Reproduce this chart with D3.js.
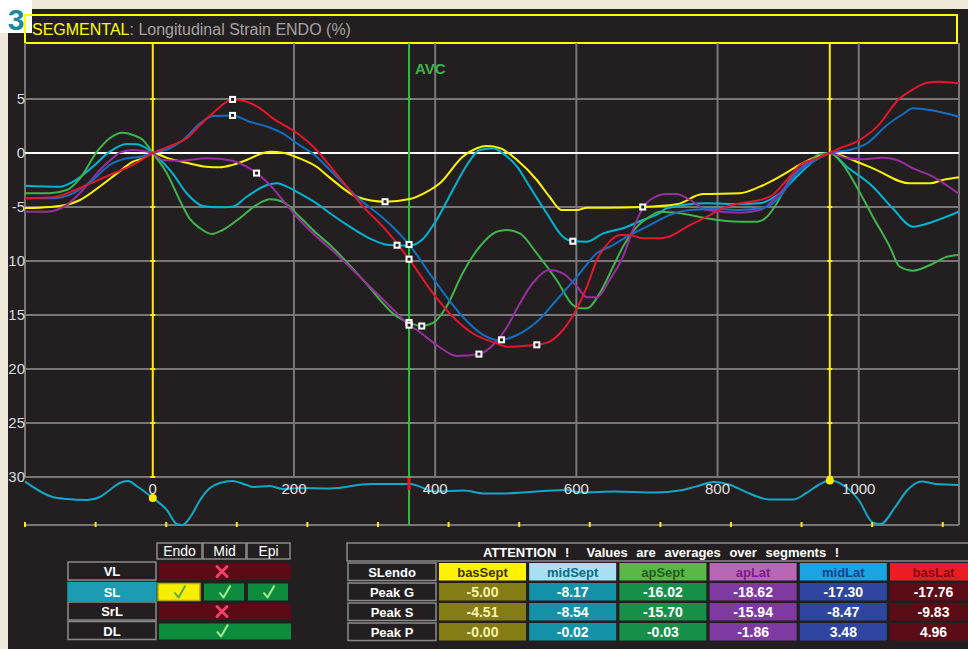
<!DOCTYPE html>
<html>
<head>
<meta charset="utf-8">
<script src="https://cdn.jsdelivr.net/npm/d3@7"></script>
<style>
body{margin:0;background:#efe9da;}
svg{display:block;font-family:"Liberation Sans",Arial,sans-serif;}
</style>
</head>
<body>
<svg id="chart" width="968" height="649"></svg>
<script>
//segment names and colours (curve, table header fill, header text, value cell fill, value text)
var segNames = ["basSept", "midSept", "apSept", "apLat", "midLat", "basLat"];
var segColors = ["#fff200", "#00b5d4", "#3db54a", "#982e9e", "#1070c4", "#e3172c"];
var headFill = ["#fff200", "#a9dff3", "#5bb848", "#b866b6", "#1ba3e2", "#ed1c24"];
var headText = ["#3b3300", "#0f6a80", "#1f5e23", "#7b1d88", "#173f8f", "#7e0b12"];
var cellFill = ["#847d16", "#1392a7", "#169049", "#7f3aa2", "#3045a0", "#5c0c16"];
var cellText = ["#f7f2b0", "#ffffff", "#ffffff", "#ffffff", "#ffffff", "#ffffff"];

//strain curves, [time ms, strain %]
var basSept = [[-181,-5.1],[-146,-5.0],[-122,-4.8],[-103,-4.35],[-75,-3.1],[-47,-1.7],[-28,-0.8],[-14,-0.5],[0,0],[20,-0.45],[48,-0.9],[76,-1.27],[95,-1.32],[113,-1.1],[133,-0.65],[152,-0.1],[166,0.12],[184,0.03],[208,-0.5],[232,-1.27],[251,-2.3],[289,-4.05],[329,-4.51],[364,-4.26],[382,-3.8],[407,-2.78],[439,-0.34],[459,0.44],[473,0.65],[492,0.44],[516,-0.65],[544,-2.5],[562,-4.05],[579,-5.28],[601,-5.28],[615,-5.06],[643,-5.06],[694,-5.0],[742,-4.75],[779,-3.8],[831,-3.73],[860,-3.12],[888,-2.19],[916,-1.11],[935,-0.49],[959,0],[997,-0.81],[1020,-1.42],[1072,-2.81],[1101,-2.81],[1119,-2.5],[1142,-2.25]];
var midSept = [[-181,-3.03],[-132,-3.12],[-113,-2.66],[-85,-1.27],[-61,0.12],[-37,0.83],[-23,0.81],[-9,0.44],[0,0],[28,-1.88],[48,-3.73],[71,-4.91],[91,-5.03],[113,-4.97],[133,-4.05],[162,-2.96],[176,-2.81],[190,-3.12],[208,-3.73],[232,-4.66],[251,-5.58],[279,-6.82],[307,-7.9],[332,-8.5],[346,-8.54],[363,-8.58],[381,-8.06],[402,-6.2],[425,-3.43],[445,-1.11],[463,0.28],[482,0.44],[496,-0.03],[516,-1.27],[534,-3.12],[558,-5.58],[581,-7.75],[595,-8.17],[615,-8.21],[638,-7.44],[666,-6.97],[694,-6.2],[718,-5.58],[728,-5.12],[785,-4.66],[832,-4.72],[860,-4.66],[888,-3.73],[917,-1.88],[941,-0.49],[959,0],[983,-1.27],[1020,-3.12],[1048,-5.12],[1077,-6.82],[1105,-6.36],[1142,-5.44]];
var apSept = [[-181,-3.73],[-146,-3.73],[-122,-3.43],[-103,-2.34],[-79,0.12],[-61,1.36],[-43,1.88],[-28,1.67],[-14,1.2],[0,0],[20,-1.88],[38,-4.35],[52,-6.05],[67,-6.97],[84,-7.5],[99,-7.13],[123,-6.05],[147,-4.81],[166,-4.29],[184,-4.51],[208,-5.9],[232,-7.44],[251,-8.52],[298,-11.76],[346,-15.16],[363,-15.7],[381,-16.02],[397,-15.74],[416,-14.23],[439,-11.11],[463,-8.68],[487,-7.29],[502,-7.13],[520,-7.44],[544,-9.29],[572,-11.76],[595,-14.07],[605,-14.38],[615,-14.38],[633,-12.99],[652,-10.53],[666,-8.68],[686,-6.82],[704,-5.9],[718,-5.44],[747,-5.58],[785,-6.05],[832,-6.36],[856,-6.36],[870,-5.9],[884,-4.66],[902,-2.5],[927,-0.95],[945,-0.09],[959,0],[978,-1.11],[997,-3.12],[1020,-5.9],[1044,-8.68],[1058,-10.53],[1077,-10.9],[1101,-10.37],[1125,-9.6],[1142,-9.44]];
var apLat = [[-181,-5.44],[-150,-5.44],[-122,-4.81],[-99,-3.43],[-75,-1.57],[-57,-0.49],[-47,0.03],[-28,0.28],[-14,0.19],[0,0],[14,-0.65],[38,-0.71],[76,-0.49],[113,-0.71],[133,-1.27],[147,-1.86],[166,-2.96],[184,-4.35],[208,-6.2],[232,-7.75],[251,-8.82],[298,-11.76],[346,-14.85],[363,-15.94],[374,-16.39],[402,-17.78],[431,-18.8],[462,-18.62],[482,-17.78],[502,-16.08],[520,-13.92],[538,-12.06],[562,-10.83],[581,-11.14],[601,-12.38],[615,-13.36],[629,-13.36],[647,-11.76],[666,-9.6],[680,-7.13],[694,-5.12],[708,-4.19],[728,-3.8],[742,-3.8],[761,-4.35],[785,-5.28],[832,-5.53],[860,-5.28],[888,-3.73],[917,-1.42],[941,-0.49],[959,0],[983,-0.49],[1006,-0.58],[1034,-0.44],[1054,-0.65],[1077,-1.42],[1105,-2.19],[1142,-3.8]];
var midLat = [[-181,-4.19],[-142,-4.19],[-113,-3.73],[-85,-2.5],[-61,-1.11],[-37,-0.49],[-18,-0.34],[0,0],[24,0.44],[43,1.2],[67,2.75],[85,3.43],[113,3.48],[137,2.9],[162,2.44],[184,1.82],[204,0.9],[232,-0.34],[251,-1.57],[289,-4.05],[332,-6.36],[363,-8.47],[392,-11.14],[416,-13.31],[439,-15.16],[468,-16.85],[487,-17.31],[494,-17.3],[516,-16.85],[544,-15.62],[572,-13.61],[601,-11.45],[629,-9.29],[652,-8.52],[676,-7.59],[700,-6.82],[718,-6.2],[732,-5.74],[761,-5.28],[799,-5.19],[832,-5.28],[870,-4.97],[888,-4.05],[912,-1.88],[935,-0.81],[959,0],[987,0.28],[1012,0.9],[1040,2.59],[1063,3.61],[1077,4.14],[1101,3.98],[1142,3.36]];
var basLat = [[-181,-4.19],[-142,-4.1],[-99,-3.12],[-61,-2.04],[-28,-1.11],[0,0],[28,0.74],[48,1.36],[67,2.59],[85,3.68],[113,4.96],[133,4.75],[152,4.14],[170,3.21],[190,2.44],[208,1.67],[232,0.28],[251,-1.2],[275,-3.12],[298,-4.97],[326,-6.82],[363,-9.83],[397,-12.99],[425,-15.16],[453,-16.69],[487,-17.62],[502,-17.94],[524,-17.87],[544,-17.76],[562,-17.47],[581,-16.39],[601,-14.38],[615,-12.38],[629,-9.91],[647,-8.21],[662,-7.59],[676,-7.59],[694,-7.9],[718,-7.9],[728,-7.81],[761,-6.67],[785,-5.9],[813,-4.97],[832,-4.66],[860,-4.35],[878,-3.89],[898,-2.5],[917,-1.11],[941,-0.49],[959,0],[973,0.44],[997,1.05],[1026,2.44],[1058,5.06],[1077,5.9],[1097,6.51],[1115,6.6],[1142,6.45]];
var curves = [basSept, midSept, apSept, apLat, midLat, basLat];

//peak values (table) and the times where they are marked
var peakG = [-5.00, -8.17, -16.02, -18.62, -17.30, -17.76];
var peakS = [-4.51, -8.54, -15.70, -15.94, -8.47, -9.83];
var peakP = [-0.001, -0.02, -0.03, -1.86, 3.48, 4.96];
var timeG = [694, 595, 381, 462, 494, 544];
var timeS = [329, 346, 363, 363, 363, 363];
var timeP = [null, null, null, 147, 113, 113];

//ecg trace, [time ms, amplitude]
var ecg = [[-181,0.32],[-142,-0.45],[-122,-0.55],[-93,-0.6],[-75,-0.45],[-61,-0.1],[-47,0.25],[-35,0.35],[-23,0.1],[0,-0.5],[20,-1.1],[34,-1.8],[42,-1.85],[55,-1.35],[67,-0.6],[81,0],[95,0.25],[113,0.35],[133,0.15],[142,0.05],[166,0.1],[184,-0.05],[208,0],[251,-0.02],[308,0.2],[364,0.2],[401,-0.18],[440,-0.13],[470,-0.28],[499,-0.27],[585,-0.1],[608,-0.22],[654,-0.18],[712,-0.23],[746,-0.13],[769,0.07],[795,0.3],[818,0.15],[839,-0.18],[873,-0.57],[908,-0.57],[925,-0.27],[943,0.15],[959,0.37],[980,0.1],[1000,-0.6],[1020,-1.73],[1031,-1.8],[1052,-0.93],[1069,-0.1],[1089,0.32],[1109,0.2],[1141,0.15]];

//axes
var ticksX = [0, 200, 400, 600, 800, 1000];
var gridX = [200, 400, 600, 800, 1000];
var ticksY = [5, 0, -5, -10, -15, -20, -25, -30];
var tickLabelsY = ["5", "0", "-5", "10", "15", "20", "25", "30"];
var cycleStart = 0, cycleEnd = 959, avcTime = 363;

//acquisition table
var modes = ["VL", "SL", "SrL", "DL"];
var layers = ["Endo", "Mid", "Epi"];
var modeStatus = [[0, 0, 0], [2, 1, 1], [0, 0, 0], [1, 1, 1]]; //0 off, 1 available, 2 selected
var peakRows = ["Peak G", "Peak S", "Peak P"];

var svg = d3.select("#chart"),
    width = +svg.attr("width"),
    height = +svg.attr("height");

var x = d3.scaleLinear().domain([-181, 1142]).range([25, 959]);
var y = d3.scaleLinear().domain([-30, 5]).range([477, 99]);
var ecgY = d3.scaleLinear().domain([-1.85, 0.4]).range([525, 480]);
var plotTop = 43, plotBottom = y(-30), stripBottom = 525;

//dark panel and badge
svg.append("rect").attr("x", 8).attr("y", 9).attr("width", width - 8).attr("height", height - 9).attr("fill", "#231f20");
svg.append("rect").attr("x", 0).attr("y", 0).attr("width", 32).attr("height", 33).attr("fill", "#ffffff");
svg.append("text").attr("x", 16).attr("y", 30).attr("text-anchor", "middle")
    .attr("font-size", 30).attr("font-weight", "bold").attr("fill", "#1a8aa0").text("3");

//header
svg.append("rect").attr("x", 25).attr("y", 15).attr("width", 932).attr("height", 28)
    .attr("fill", "none").attr("stroke", "#ffff00").attr("stroke-width", 2);
var head = svg.append("text").attr("x", 32).attr("y", 35).attr("font-size", 16);
head.append("tspan").attr("fill", "#ffff00").text("SEGMENTAL");
head.append("tspan").attr("fill", "#a3a3a3").text(":  Longitudinal Strain ENDO (%)");

//grid
var grid = svg.append("g");
grid.selectAll(".gy").data(ticksY.filter(function (d) { return d !== 0; })).enter().append("line")
    .attr("x1", x.range()[0]).attr("x2", x.range()[1])
    .attr("y1", function (d) { return y(d); }).attr("y2", function (d) { return y(d); })
    .attr("stroke", "#777777").attr("stroke-width", 2);
grid.selectAll(".gx").data(gridX).enter().append("line")
    .attr("x1", function (d) { return x(d); }).attr("x2", function (d) { return x(d); })
    .attr("y1", plotTop).attr("y2", plotBottom)
    .attr("stroke", "#777777").attr("stroke-width", 2);
grid.append("line").attr("x1", x.range()[0]).attr("x2", x.range()[0]).attr("y1", plotTop).attr("y2", plotBottom)
    .attr("stroke", "#777777").attr("stroke-width", 2);
grid.append("line").attr("x1", x.range()[1]).attr("x2", x.range()[1]).attr("y1", plotTop).attr("y2", stripBottom)
    .attr("stroke", "#777777").attr("stroke-width", 2);
grid.append("line").attr("x1", x.range()[0]).attr("x2", x.range()[1]).attr("y1", stripBottom).attr("y2", stripBottom)
    .attr("stroke", "#777777").attr("stroke-width", 2);
grid.append("line").attr("x1", x.range()[0]).attr("x2", x.range()[1]).attr("y1", y(0)).attr("y2", y(0))
    .attr("stroke", "#ffffff").attr("stroke-width", 2);

//y labels
svg.selectAll(".ylab").data(ticksY).enter().append("text")
    .attr("x", 25).attr("y", function (d) { return y(d) + 5; })
    .attr("text-anchor", "end").attr("font-size", 15).attr("fill", "#d9d9d9")
    .text(function (d, i) { return tickLabelsY[i]; });

//event lines
function eventLine(t, color, yEnd) {
    svg.append("line").attr("x1", x(t)).attr("x2", x(t)).attr("y1", plotTop).attr("y2", yEnd)
        .attr("stroke", color).attr("stroke-width", 2);
    svg.selectAll(null).data(ticksY.filter(function (d) { return d !== 0; })).enter().append("rect")
        .attr("x", x(t) - 2.5).attr("y", function (d) { return y(d) - 1; })
        .attr("width", 5).attr("height", 2).attr("fill", color);
}
function ecgAt(t) {
    var i = d3.bisector(function (d) { return d[0]; }).left(ecg, t);
    var a = ecg[Math.max(0, i - 1)], b = ecg[Math.min(ecg.length - 1, i)];
    if (a[0] === b[0]) return a[1];
    return a[1] + (b[1] - a[1]) * (t - a[0]) / (b[0] - a[0]);
}
eventLine(cycleStart, "#ffeb00", plotBottom);
eventLine(cycleEnd, "#ffeb00", ecgY(ecgAt(cycleEnd)));
eventLine(avcTime, "#39b54a", stripBottom);
svg.append("text").attr("x", x(avcTime) + 6).attr("y", 74).attr("font-size", 15).attr("font-weight", "bold")
    .attr("fill", "#39b54a").text("AVC");

//curves
svg.append("clipPath").attr("id", "plotClip").append("rect")
    .attr("x", x.range()[0]).attr("y", plotTop).attr("width", x.range()[1] - x.range()[0]).attr("height", plotBottom - plotTop);
var line = d3.line()
    .x(function (d) { return x(d[0]); })
    .y(function (d) { return y(d[1]); })
    .curve(d3.curveMonotoneX);
svg.append("g").attr("clip-path", "url(#plotClip)").selectAll("path").data(curves).enter().append("path")
    .attr("d", line).attr("fill", "none")
    .attr("stroke", function (d, i) { return segColors[i]; }).attr("stroke-width", 2);

//peak markers
var marks = [];
segNames.forEach(function (n, i) {
    marks.push([timeS[i], peakS[i]]);
    marks.push([timeG[i], peakG[i]]);
    if (timeP[i] !== null) marks.push([timeP[i], peakP[i]]);
});
svg.selectAll(".mark").data(marks).enter().append("rect")
    .attr("x", function (d) { return x(d[0]) - 2.5; }).attr("y", function (d) { return y(d[1]) - 2.5; })
    .attr("width", 5).attr("height", 5).attr("fill", "#231f20").attr("stroke", "#ffffff").attr("stroke-width", 2);

//ecg strip
var ecgLine = d3.line()
    .x(function (d) { return x(d[0]); })
    .y(function (d) { return ecgY(d[1]); })
    .curve(d3.curveMonotoneX);
svg.append("path").datum(ecg).attr("d", ecgLine).attr("fill", "none").attr("stroke", "#12a9c9").attr("stroke-width", 2);
svg.selectAll(".etick").data(d3.range(-181, 1142, 100)).enter().append("rect")
    .attr("x", function (d) { return x(d) - 1; }).attr("y", stripBottom - 3)
    .attr("width", 2).attr("height", 5).attr("fill", "#ffeb00");
svg.append("rect").attr("x", x(avcTime) - 1.5).attr("y", ecgY(ecgAt(avcTime)) - 6).attr("width", 3).attr("height", 12).attr("fill", "#e3172c");
svg.selectAll(".dot").data([cycleStart, cycleEnd]).enter().append("circle")
    .attr("cx", function (d) { return x(d); }).attr("cy", function (d) { return ecgY(ecgAt(d)); })
    .attr("r", 4).attr("fill", "#ffeb00");
svg.selectAll(".xlab").data(ticksX).enter().append("text")
    .attr("x", function (d) { return x(d); }).attr("y", 494)
    .attr("text-anchor", "middle").attr("font-size", 15).attr("fill", "#e0e0e0")
    .text(function (d) { return d; });

//acquisition table (left)
var lt = svg.append("g");
var layerX = [157, 203, 247], layerW = [45, 43, 43];
var rowTop = [562, 582.5, 602, 621.5], rowH = 19;
layers.forEach(function (l, j) {
    lt.append("rect").attr("x", layerX[j]).attr("y", 543).attr("width", layerW[j]).attr("height", 16)
        .attr("fill", "#231f20").attr("stroke", "#8a8a8a").attr("stroke-width", 1.5);
    lt.append("text").attr("x", layerX[j] + layerW[j] / 2).attr("y", 556).attr("text-anchor", "middle")
        .attr("font-size", 14).attr("fill", "#ffffff").text(l);
});
function checkMark(g, cx, cy, color) {
    g.append("path").attr("d", "M" + (cx - 5) + "," + cy + "L" + (cx - 1) + "," + (cy + 5) + "L" + (cx + 6) + "," + (cy - 7))
        .attr("fill", "none").attr("stroke", color).attr("stroke-width", 2).attr("stroke-linejoin", "round");
}
function crossMark(g, cx, cy) {
    g.append("path").attr("d", "M" + (cx - 5) + "," + (cy - 5) + "L" + (cx + 5) + "," + (cy + 5) + "M" + (cx + 5) + "," + (cy - 5) + "L" + (cx - 5) + "," + (cy + 5))
        .attr("stroke", "#f2416b").attr("stroke-width", 3).attr("stroke-linecap", "round");
}
modes.forEach(function (m, i) {
    var active = modeStatus[i].indexOf(2) >= 0;
    var top = rowTop[i];
    lt.append("rect").attr("x", 68).attr("y", top).attr("width", 88).attr("height", rowH - 1)
        .attr("fill", active ? "#1d9bb2" : "#231f20").attr("stroke", active ? "#1d9bb2" : "#8a8a8a").attr("stroke-width", 1.5);
    lt.append("text").attr("x", 112).attr("y", top + 14).attr("text-anchor", "middle")
        .attr("font-size", 13).attr("font-weight", "bold").attr("fill", "#ffffff").text(m);
    var s = modeStatus[i];
    if (!active) {
        lt.append("rect").attr("x", 159).attr("y", top + 2).attr("width", 132).attr("height", rowH - 3)
            .attr("fill", s[0] === 0 ? "#5c0a15" : "#0e8c3e");
        if (s[0] === 0) crossMark(lt, 222, top + 9.5);
        else checkMark(lt, 222, top + 10, "#a6ef90");
    } else {
        s.forEach(function (v, j) {
            lt.append("rect").attr("x", layerX[j] + 1).attr("y", top + 1).attr("width", layerW[j] - 3).attr("height", rowH - 2)
                .attr("fill", v === 2 ? "#f7ef00" : "#0e8c3e")
                .attr("stroke", v === 2 ? "#c2a200" : "none").attr("stroke-width", 1.5);
            checkMark(lt, layerX[j] + layerW[j] / 2, top + 10, v === 2 ? "#5aa84a" : "#a6ef90");
        });
    }
});

//peak table (right)
var rt = svg.append("g");
var colX0 = 439, colStep = 90.2, colW = 87;
var tRows = [563, 583, 603, 623], tH = 17.5;
rt.append("rect").attr("x", 347).attr("y", 543).attr("width", 640).attr("height", 18)
    .attr("fill", "#231f20").attr("stroke", "#8a8a8a").attr("stroke-width", 1.5);
rt.append("text").attr("x", 661).attr("y", 557).attr("text-anchor", "middle").attr("xml:space", "preserve")
    .attr("font-size", 13).attr("font-weight", "bold").attr("fill", "#ffffff").attr("word-spacing", 5)
    .text("ATTENTION !  Values are averages over segments !");
["SLendo"].concat(peakRows).forEach(function (r, i) {
    rt.append("rect").attr("x", 348).attr("y", tRows[i]).attr("width", 88).attr("height", tH)
        .attr("fill", "#231f20").attr("stroke", "#8a8a8a").attr("stroke-width", 1.5);
    rt.append("text").attr("x", 392).attr("y", tRows[i] + 13.5).attr("text-anchor", "middle")
        .attr("font-size", 13).attr("font-weight", "bold").attr("fill", "#ffffff").text(r);
});
var peaks = [peakG, peakS, peakP];
segNames.forEach(function (n, j) {
    var cx = colX0 + j * colStep;
    rt.append("rect").attr("x", cx).attr("y", tRows[0]).attr("width", colW).attr("height", tH).attr("fill", headFill[j]);
    rt.append("text").attr("x", cx + colW / 2).attr("y", tRows[0] + 13.5).attr("text-anchor", "middle")
        .attr("font-size", 13).attr("font-weight", "bold").attr("fill", headText[j]).text(n);
    peaks.forEach(function (p, k) {
        rt.append("rect").attr("x", cx).attr("y", tRows[k + 1]).attr("width", colW).attr("height", tH).attr("fill", cellFill[j]);
        rt.append("text").attr("x", cx + colW / 2).attr("y", tRows[k + 1] + 14).attr("text-anchor", "middle")
            .attr("font-size", 14).attr("font-weight", "bold").attr("fill", cellText[j]).text(p[j].toFixed(2));
    });
});
</script>
</body>
</html>
